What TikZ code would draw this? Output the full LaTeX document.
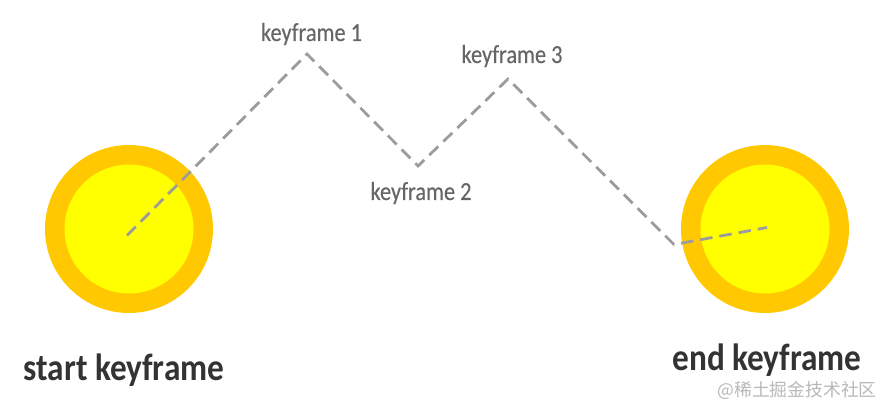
\documentclass[tikz,border=0pt]{standalone}
\usepackage{fontspec}
\setmainfont{Carlito}
\newfontfamily\cjkwm{Noto Sans CJK SC}
\newfontfamily\smallface[FakeStretch=0.86,FakeBold=0.3]{Carlito}
\newfontfamily\bigface[FakeStretch=0.875]{Carlito}[BoldFont={Carlito Bold}]
\tikzset{
  sunouter/.style={circle,fill=sunorange,draw=none,minimum size=168pt,inner sep=0pt},
  suninner/.style={circle,fill=sunyellow,draw=none,minimum size=129pt,inner sep=0pt},
  pathline/.style={draw=pathgray,line width=2.8pt,dash pattern=on 12.5pt off 7pt},
  smalllabel/.style={text=labelgray,font=\smallface\fontsize{26}{28}\selectfont,inner sep=0pt,anchor=base},
  biglabel/.style={text=darklabel,font=\bigface\fontsize{38}{40}\selectfont\bfseries,inner sep=0pt,anchor=base},
  watermark/.style={text=wmgray,font=\cjkwm\fontsize{17.8}{20}\selectfont,inner sep=0pt,anchor=base}
}
\definecolor{sunorange}{HTML}{FFC800}
\definecolor{sunyellow}{HTML}{FFFF00}
\definecolor{pathgray}{HTML}{9C9C9C}
\definecolor{labelgray}{HTML}{666666}
\definecolor{darklabel}{HTML}{333333}
\definecolor{wmgray}{HTML}{B8B8B8}
\begin{document}
\begin{tikzpicture}[x=1pt,y=-1pt]
\useasboundingbox (0,0) rectangle (884,406);
\node[sunouter] (startouter) at (129,229) {};
\node[suninner] (startinner) at (129,229) {};
\node[sunouter] (endouter) at (765,229) {};
\node[suninner] (endinner) at (765,229) {};
\coordinate (p0) at (127,235.5);
\coordinate (p1) at (307,54);
\coordinate (p2) at (418,166);
\coordinate (p3) at (508,79);
\coordinate (p4) at (674,244.5);
\coordinate (p5) at (767,227.5);
\draw[pathline] (p0) -- (p1) -- (p2) -- (p3) -- (p4) -- (p5);
\node[smalllabel] (k1) at (311.5,41) {keyframe 1};
\node[smalllabel] (k2) at (421,200) {keyframe 2};
\node[smalllabel] (k3) at (512,63) {keyframe 3};
\node[biglabel] (startlabel) at (124,380) {start keyframe};
\node[biglabel] (endlabel) at (767,370) {end keyframe};
\node[watermark] (wm) at (797,396) {@稀土掘金技术社区};
\end{tikzpicture}
\end{document}
